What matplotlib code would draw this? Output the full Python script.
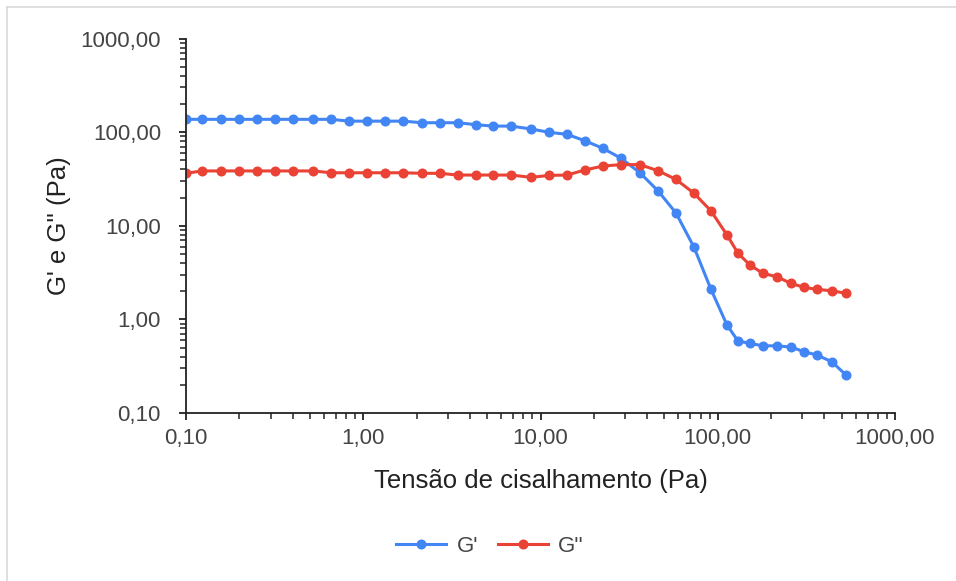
import matplotlib
matplotlib.use("Agg")
import matplotlib.pyplot as plt
from matplotlib.lines import Line2D
from matplotlib.ticker import LogLocator, FuncFormatter, NullFormatter

plt.rcParams["font.family"] = ["Liberation Sans", "DejaVu Sans"]

# Tensão de cisalhamento (Pa)
tensao = [0.100, 0.123, 0.158, 0.199, 0.252, 0.318, 0.402, 0.521, 0.658, 0.831,
          1.05, 1.33, 1.68, 2.15, 2.71, 3.42, 4.33, 5.40, 6.82, 8.84,
          11.2, 14.1, 17.8, 22.5, 28.5, 36.4, 46.0, 58.1, 73.5, 91.6,
          112.8, 130, 152, 180, 216, 259, 307, 363, 441, 529]

# Módulo elástico G' (Pa)
g_linha = [137, 137, 137, 137, 137, 137, 137, 137, 137, 131,
           131, 131, 131, 126, 126, 126, 120, 116, 116, 108,
           99.5, 94.7, 80.9, 67.1, 52.5, 36.8, 23.6, 13.7, 5.88, 2.09,
           0.869, 0.589, 0.554, 0.522, 0.522, 0.506, 0.451, 0.416, 0.352, 0.254]

# Módulo viscoso G'' (Pa)
g_duas = [36.3, 38.5, 38.5, 38.5, 38.5, 38.5, 38.5, 38.5, 36.8, 36.8,
          36.8, 36.8, 36.8, 36.3, 36.3, 34.8, 34.8, 34.8, 34.8, 32.9,
          34.5, 34.8, 39.4, 43.4, 45.0, 45.0, 38.7, 31.3, 22.2, 14.4,
          7.96, 5.10, 3.80, 3.10, 2.85, 2.42, 2.20, 2.09, 2.02, 1.90]

azul = "#4285F4"
vermelho = "#EA4335"

fig = plt.figure(figsize=(9.56, 5.81), dpi=100)
ax = fig.add_axes([186 / 956, 1 - 413 / 581, 709 / 956, 374.5 / 581])

ax.plot(tensao, g_linha, color=azul, lw=2.2, marker="o", ms=6.2, label="G'")
ax.plot(tensao, g_duas, color=vermelho, lw=2.2, marker="o", ms=6.2, label="G''")

ax.set_xscale("log")
ax.set_yscale("log")
ax.set_xlim(0.1, 1000)
ax.set_ylim(0.1, 1000)

fmt = FuncFormatter(lambda v, p: f"{v:.2f}".replace(".", ","))
for eixo in (ax.xaxis, ax.yaxis):
    eixo.set_major_locator(LogLocator(base=10, numticks=10))
    eixo.set_minor_locator(LogLocator(base=10, subs=range(2, 10), numticks=10))
    eixo.set_major_formatter(fmt)
    eixo.set_minor_formatter(NullFormatter())

for lado in ("top", "right"):
    ax.spines[lado].set_visible(False)
for lado in ("left", "bottom"):
    ax.spines[lado].set_color("#222222")
    ax.spines[lado].set_linewidth(1.3)

ax.tick_params(which="major", length=5, width=1.3, color="#222222",
               labelsize=16, labelcolor="#444444")
ax.tick_params(which="minor", length=4, width=1.1, color="#222222")
ax.tick_params(axis="x", which="major", pad=6)
ax.tick_params(axis="y", which="major", pad=13)

ax.set_xlabel("Tensão de cisalhamento (Pa)", fontsize=18.5, color="#222222", labelpad=14)
ax.set_ylabel("G' e G'' (Pa)", fontsize=18.5, color="#222222", labelpad=7)

# legenda abaixo do eixo
fig.legend(loc="center", bbox_to_anchor=(490 / 956, 1 - 546 / 581), ncol=2, frameon=False,
           fontsize=16, handlelength=2.25, handletextpad=0.45, columnspacing=0.9,
           labelcolor="#444444")

# moldura clara do gráfico
fig.add_artist(Line2D([7 / 956, 1], [1 - 7 / 581, 1 - 7 / 581], color="#d9d9d9", lw=1.2))
fig.add_artist(Line2D([7 / 956, 7 / 956], [0, 1 - 7 / 581], color="#d9d9d9", lw=1.2))

fig.savefig("out.png", dpi=100, facecolor="white")
